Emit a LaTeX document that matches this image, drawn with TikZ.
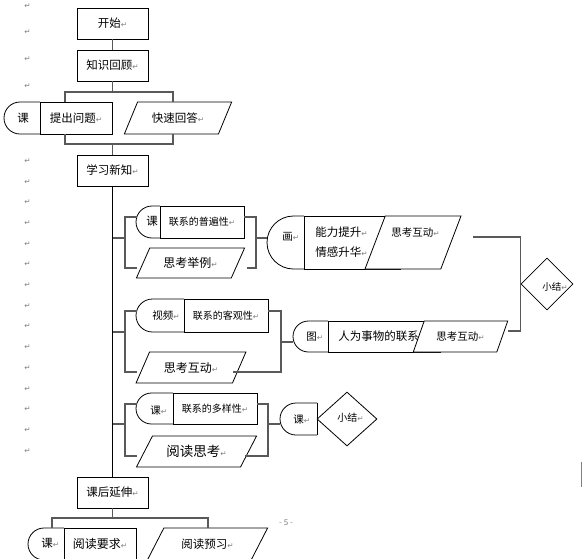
\documentclass[tikz,border=0pt]{standalone}
\usepackage{fontspec}
\setmainfont{Noto Sans CJK SC}
\newfontfamily\arrowfont{DejaVu Sans}
\usepackage{xcolor}
\usetikzlibrary{calc,positioning,shapes.geometric}
\definecolor{markgray}{gray}{0.5}
\definecolor{linegray}{gray}{0.35}
\newcommand{\fsz}[1]{\fontsize{#1}{#1}\selectfont}
\newcommand{\enter}{{\arrowfont\fsz{7.5}\textcolor{markgray}{↵}}}
\newcommand{\capshape}[4]{%
	\pgfmathsetmacro{\capr}{min((#4-#2)/2,#3-#1)}
	\draw[fill=white,rounded corners=\capr pt] (#3,#2) -- (#1,#2) -- (#1,#4) -- (#3,#4);
	\draw (#3,#2) -- (#3,#4);
}
\tikzset{%
	box/.style  = {draw, rectangle, fill=white, inner sep=0pt, minimum width=71pt, minimum height=31pt, text centered, font=\fsz{11.5}},
	para/.style = {draw, trapezium, trapezium left angle=55, trapezium right angle=125, trapezium stretches=true, fill=white, inner sep=1pt, text centered, font=\fsz{11.5}},
	sumbox/.style = {draw, diamond, fill=white, inner sep=1pt, minimum width=52pt, minimum height=52pt},
	lbl/.style  = {inner sep=0pt, anchor=west, font=\fsz{11.5}},
	conn/.style = {draw=linegray, line width=1.3pt},
	spine/.style = {draw=black, line width=0.9pt},
}

\begin{document}
\begin{tikzpicture}[x=1pt,y=-1pt,line width=0.8pt]
	\useasboundingbox (0,0) rectangle (583,558);
	
	% paragraph marks and page number
	\foreach \y in {6,32,59,86} \node[lbl] (mk\y) at (24,\y) {\enter};
	\foreach \k in {0,...,14} \node[lbl] (mark\k) at (24,{161+20.7*\k}) {\enter};
	\node[font=\fsz{8},text=markgray] (page) at (286,523) {- 5 -};
	\draw[markgray] (581,462) -- (581,487);
	
	% start and review
	\node[box] (start) at (112.5,23.5) {开始\enter};
	\node[box] (review) at (112.5,65.5) {知识回顾\enter};
	\capshape{4}{102}{40}{134}
	\node[lbl] (ke0) at (17,118) {课};
	\node[box, minimum width=72pt, minimum height=32pt] (ask) at (76,118) {提出问题\enter};
	\node[para, minimum width=108pt, minimum height=32pt] (kuai) at (178,118) {快速回答\enter};
	\node[box] (learn) at (112.5,170.5) {学习新知\enter};
	
	% first group
	\capshape{136}{206}{160}{238}
	\node[lbl] (ke1) at (146,221) {课};
	\node[box, minimum width=84pt, minimum height=32pt, font=\fsz{10}] (pubian) at (202,222) {联系的普遍性\enter};
	\node[para, minimum width=109pt, minimum height=30pt, font=\fsz{12}] (juli) at (190.5,263) {思考举例\enter};
	\capshape{267}{216}{304}{269}
	\node[lbl, font=\fsz{10.5}] (hua) at (282,237) {画\enter};
	\node[box, minimum width=96pt, minimum height=53pt] (nengli) at (352,242.5) {};
	\node[lbl] (nengli1) at (315,232) {能力提升\enter};
	\node[lbl] (nengli2) at (315,252) {情感升华\enter};
	\node[para, trapezium left angle=70, trapezium right angle=110, minimum width=96pt, minimum height=53pt] (hudong1) at (413,242.5) {};
	\node[lbl, font=\fsz{10.5}] (hudong1t) at (391,232) {思考互动\enter};
	
	% second group
	\capshape{136}{299}{184}{332}
	\node[lbl, font=\fsz{10.5}] (video) at (152,316) {视频\enter};
	\node[box, minimum width=84pt, minimum height=33pt, font=\fsz{10}] (keguan) at (226,315.5) {联系的客观性\enter};
	\node[para, minimum width=110pt, minimum height=31pt, font=\fsz{12}] (hudong2) at (191,367.5) {思考互动\enter};
	\capshape{293}{321}{328}{352}
	\node[lbl, font=\fsz{10.5}] (tu) at (306,337) {图\enter};
	\node[box, minimum width=112pt, minimum height=31pt] (renwei) at (384,336.5) {};
	\node[para, trapezium left angle=57, trapezium right angle=123, minimum width=95pt, minimum height=31pt, font=\fsz{10.5}] (hudong3) at (460.5,336.5) {思考互动\enter};
	\node[lbl] (renweit) at (338,336) {人为事物的联系};
	\node[sumbox] (sum1) at (547,284) {};
	\node[lbl, font=\fsz{9.5}] (sum1t) at (542,287) {小结\enter};
	
	% third group
	\capshape{136}{393}{173}{424}
	\node[lbl, font=\fsz{10.5}] (ke3) at (150,411) {课\enter};
	\node[box, minimum width=84pt, minimum height=31pt, font=\fsz{10}] (duoyang) at (215,408.5) {联系的多样性\enter};
	\node[para, trapezium left angle=52, trapezium right angle=128, minimum width=121pt, minimum height=31pt, font=\fsz{13.5}] (yuedu) at (196.5,451.5) {阅读思考\enter};
	\capshape{280}{403}{317}{435}
	\node[lbl, font=\fsz{10.5}] (ke4) at (293,420) {课\enter};
	\node[sumbox, minimum width=60pt, minimum height=54pt] (sum2) at (347,419) {};
	\node[lbl, font=\fsz{10}] (sum2t) at (337,418) {小结\enter};
	
	% after class
	\node[box] (after) at (112.5,492.5) {课后延伸\enter};
	\capshape{28}{528}{64}{560}
	\node[lbl] (ke5) at (41,543) {课\enter};
	\node[box, minimum width=72pt, minimum height=32pt, font=\fsz{12}] (yaoqiu) at (100,544) {阅读要求\enter};
	\node[para, trapezium left angle=51, trapezium right angle=129, minimum width=121pt, minimum height=32pt] (yuxi) at (207.5,544) {阅读预习\enter};
	
	% connectors
	\coordinate (b1l) at (65,92);  \coordinate (b1r) at (173,92);
	\coordinate (b2l) at (65,144); \coordinate (b2r) at (173,144);
	\coordinate (b3l) at (52,518); \coordinate (b3r) at (208,518);
	\draw[conn] (start) -- (review);
	\draw[conn] (review) -- (review.south |- b1l);
	\draw[conn] (b1l |- ask.north) -- (b1l) -- (b1r) -- (b1r |- kuai.north);
	\draw[conn] (b2l |- ask.south) -- (b2l) -- (b2r) -- (b2r |- kuai.south);
	\draw[conn] (learn) -- (learn.north |- b2l);
	\draw[spine] (learn) -- (after);
	
	\coordinate (g1t) at (137,217); \coordinate (g1m) at (125,238); \coordinate (g1b) at (137,268);
	\coordinate (g1rm) at (256,238); \coordinate (g1rb) at (247,268); \coordinate (huain) at (267,238);
	\draw[conn] (g1m -| learn.south) -- (g1m);
	\draw[conn] (g1t) -| (g1m) |- (g1b);
	\draw[conn] (pubian.east |- g1t) -| (g1rm) |- (g1rb);
	\draw[conn] (g1rm) -- (huain);
	
	\coordinate (g2t) at (137,311); \coordinate (g2m) at (125,332); \coordinate (g2b) at (137,372);
	\coordinate (g2rm) at (281,342); \coordinate (g2rb) at (233,372); \coordinate (tuin) at (293,342);
	\draw[conn] (g2m -| learn.south) -- (g2m);
	\draw[conn] (g2t) -| (g2m) |- (g2b);
	\draw[conn] (keguan.east |- g2t) -| (g2rm) |- (g2rb);
	\draw[conn] (g2rm) -- (tuin);
	
	\coordinate (g3t) at (137,404); \coordinate (g3m) at (125,424); \coordinate (g3b) at (137,456);
	\coordinate (g3rm) at (268,424); \coordinate (g3rb) at (245,456); \coordinate (ke4in) at (280,424);
	\draw[conn] (g3m -| learn.south) -- (g3m);
	\draw[conn] (g3t) -| (g3m) |- (g3b);
	\draw[conn] (duoyang.east |- g3t) -| (g3rm) |- (g3rb);
	\draw[conn] (g3rm) -- (ke4in);
	
	\coordinate (sumin1) at (473,237); \coordinate (sumin2) at (508,331);
	\draw[conn] (sumin1) -| (sum1.west |- sumin2) -- (sumin2);
	
	\draw[conn] (after) -- (after.south |- b3l);
	\draw[conn] (b3l |- yaoqiu.north) -- (b3l) -- (b3r) -- (b3r |- yuxi.north);
\end{tikzpicture}
\end{document}
